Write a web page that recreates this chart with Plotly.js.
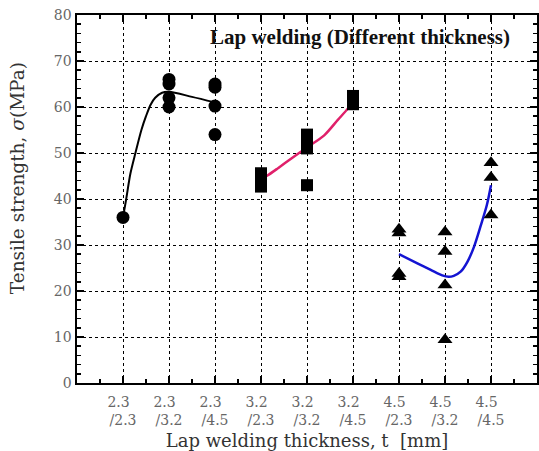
<!DOCTYPE html>
<html>
<head>
<meta charset="utf-8">
<script src="https://cdn.plot.ly/plotly-3.0.1.min.js"></script>
<style>html,body{margin:0;padding:0;background:#fff;}#chart{width:539px;height:451px;}</style>
</head>
<body>
<div id="chart"></div>
<script>
// Category positions and tick labels
const catPos = [1, 2, 3, 4, 5, 6, 7, 8, 9];
const catLabels = ['2.3\u00a0\u00a0<br>/2.3', '2.3\u00a0\u00a0<br>/3.2', '2.3\u00a0\u00a0<br>/4.5', '3.2\u00a0\u00a0<br>/2.3', '3.2\u00a0\u00a0<br>/3.2', '3.2\u00a0\u00a0<br>/4.5', '4.5\u00a0\u00a0<br>/2.3', '4.5\u00a0\u00a0<br>/3.2', '4.5\u00a0\u00a0<br>/4.5'];

// Measured points
const circX = [1, 2, 2, 2, 2, 3, 3, 3, 3];
const circY = [36, 66, 65, 62, 60, 65, 64.3, 60.2, 54];
const sqX = [4, 4, 4, 5, 5, 5, 5, 6, 6, 6];
const sqY = [45.6, 44.2, 42.7, 54, 52.5, 51, 43, 62.4, 61.5, 60.6];
const triX = [7, 7, 7, 7, 8, 8, 8, 8, 9, 9, 9];
const triY = [33.4, 32.6, 23.8, 23.1, 32.8, 28.6, 21.3, 9.4, 47.9, 44.7, 36.5];

// Fitted trend curves
const fitBlackX = [1, 1.07, 1.16, 1.27, 1.4, 1.5, 1.6, 1.7, 1.85, 2, 2.5, 3];
const fitBlackY = [36, 40, 45.5, 50, 55, 58, 60.5, 62, 63.1, 63.3, 62.2, 61];
const fitRedX = [4, 4.14, 4.37, 4.66, 5, 5.38, 5.67, 5.89, 6];
const fitRedY = [44.3, 45.1, 46.7, 48.8, 51.2, 53.9, 57.2, 59.7, 61.5];
const fitBlueX = [7, 7.4, 7.69, 7.94, 8.08, 8.19, 8.34, 8.49, 8.63, 8.77, 8.91, 9];
const fitBlueY = [28, 26, 24.6, 23.4, 23.1, 23.3, 24.2, 26.4, 29.6, 34, 38.7, 43];

const serif = 'DejaVu Serif, serif';

const traces = [
  {x: fitBlackX, y: fitBlackY, mode: 'lines', line: {color: '#000', width: 2, shape: 'spline', smoothing: 0.8}, hoverinfo: 'skip'},
  {x: fitRedX, y: fitRedY, mode: 'lines', line: {color: '#e0206a', width: 2.5, shape: 'spline', smoothing: 0.8}, hoverinfo: 'skip'},
  {x: fitBlueX, y: fitBlueY, mode: 'lines', line: {color: '#1414d2', width: 2.5, shape: 'spline', smoothing: 0.8}, hoverinfo: 'skip'},
  {x: circX, y: circY, mode: 'markers', marker: {symbol: 'circle', size: 13, color: '#000'}},
  {x: sqX, y: sqY, mode: 'markers', marker: {symbol: 'square', size: 12, color: '#000'}},
  {x: triX, y: triY, mode: 'markers', marker: {symbol: 'triangle-up', size: 13, color: '#000'}}
];

const layout = {
  width: 539, height: 451,
  margin: {l: 77, r: 2, t: 15, b: 68},
  showlegend: false,
  paper_bgcolor: '#fff', plot_bgcolor: '#fff',
  xaxis: {
    range: [0, 10],
    tickmode: 'array', tickvals: catPos, ticktext: catLabels,
    ticks: 'inside', ticklen: 7, tickwidth: 1.5, tickcolor: '#000',
    showline: true, linecolor: '#000', linewidth: 2, mirror: 'ticks',
    showgrid: true, gridcolor: '#000', gridwidth: 1, griddash: 'dot',
    zeroline: false,
    ticklabelstandoff: 5,
    tickfont: {family: serif, size: 14, color: '#666'},
    minor: {tickmode: 'linear', tick0: 0.5, dtick: 1, ticks: 'inside', ticklen: 4, tickcolor: '#000', showgrid: false},
    title: {text: 'Lap welding thickness, t  [mm]', font: {family: serif, size: 18, color: '#333'}, standoff: 10}
  },
  yaxis: {
    range: [0, 80],
    tickmode: 'linear', tick0: 0, dtick: 10,
    ticks: 'inside', ticklen: 7, tickwidth: 1.5, tickcolor: '#000',
    showline: true, linecolor: '#000', linewidth: 2.5, mirror: 'ticks',
    showgrid: true, gridcolor: '#000', gridwidth: 1, griddash: 'dot',
    zeroline: false,
    tickfont: {family: serif, size: 14, color: '#666'},
    minor: {tickmode: 'linear', tick0: 0, dtick: 2, ticks: 'inside', ticklen: 4, tickcolor: '#000', showgrid: false}
  },
  annotations: [{
    xref: 'paper', yref: 'paper', x: 0.615, y: 0.94, xanchor: 'center', yanchor: 'middle',
    text: '<b>Lap welding (Different thickness)</b>', showarrow: false,
    font: {family: 'Liberation Serif, serif', size: 21, color: '#111'}
  }, {
    xref: 'paper', yref: 'paper', x: -0.13, y: 0.557, xanchor: 'center', yanchor: 'middle',
    textangle: -90, showarrow: false,
    text: 'Tensile strength, <i>σ</i>(MPa)',
    font: {family: serif, size: 18.5, color: '#333'}
  }]
};

Plotly.newPlot('chart', traces, layout, {staticPlot: true, displayModeBar: false});
</script>
</body>
</html>
